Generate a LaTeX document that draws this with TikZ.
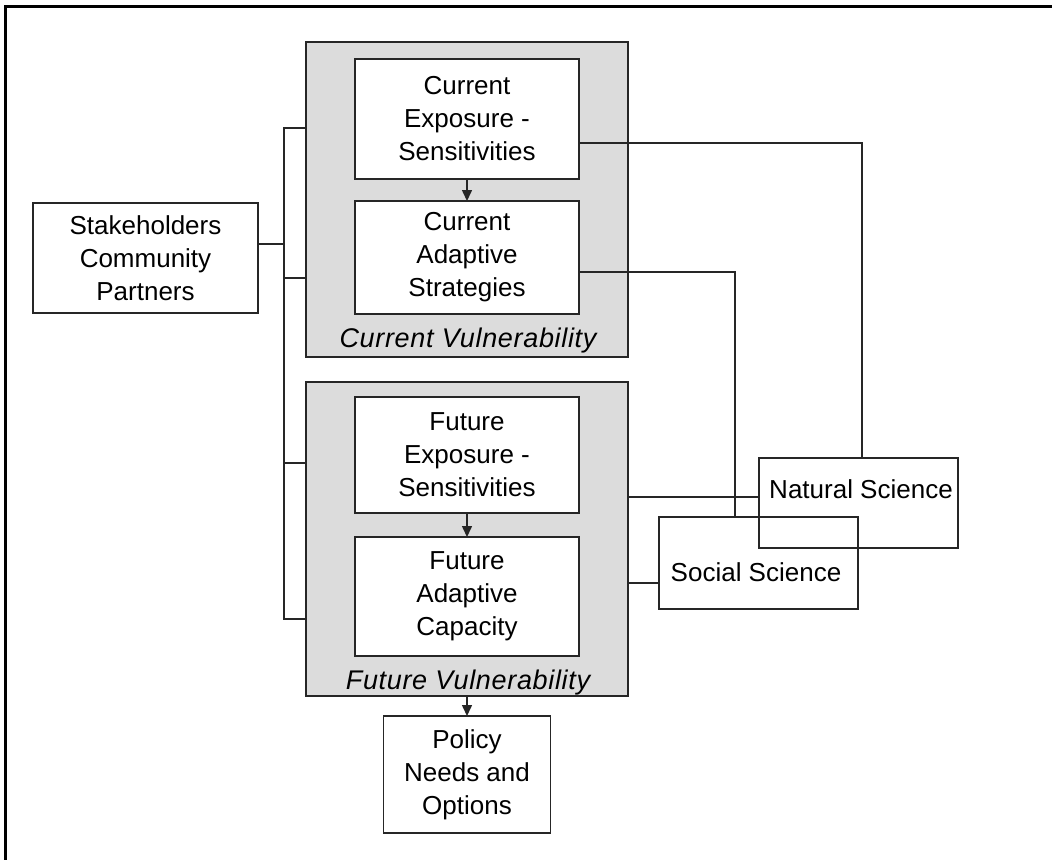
\documentclass[tikz,border=0pt]{standalone}
\usepackage{fontspec}
\setmainfont{Liberation Sans}
\usetikzlibrary{arrows.meta}
\definecolor{panelgray}{HTML}{DCDCDC}
\definecolor{ink}{HTML}{262626}
\begin{document}
\begin{tikzpicture}[x=1pt,y=-1pt,
  wbox/.style={draw=ink,line width=1.5pt,fill=white,inner sep=0pt,outer sep=0pt,align=center,
    font=\fontsize{26}{33}\selectfont},
  gbox/.style={draw=ink,line width=1.5pt,fill=panelgray,inner sep=0pt,outer sep=0pt},
  obox/.style={draw=ink,line width=1.5pt,inner sep=0pt,outer sep=0pt},
  lbl/.style={font=\fontsize{26}{33}\selectfont,inner sep=0pt},
  ilbl/.style={font=\fontsize{27}{33}\selectfont\itshape\addfontfeature{LetterSpace=2.5},inner sep=0pt,anchor=base},
  conn/.style={draw=ink,line width=1.5pt},
  arr/.style={draw=ink,line width=1.5pt,-{Triangle[length=11pt,width=10pt]}},
  frame/.style={draw=black,line width=3pt}
]
\useasboundingbox (0,0) rectangle (1052,860);
% outer frame (top and left edges visible)
\coordinate (ftl) at (5,6);
\coordinate (ftr) at (1052,6);
\coordinate (fbl) at (5,860);
\draw[frame] (ftr) -- (ftl) -- (fbl);

% grey panels
\node[gbox,minimum width=322pt,minimum height=315pt] (cv) at (467,199.5) {};
\node[gbox,minimum width=322pt,minimum height=314pt] (fv) at (467,539) {};
\node[ilbl] (cvl) at (468,347) {Current Vulnerability};
\node[ilbl] (fvl) at (468,689) {Future Vulnerability};

% white boxes
\node[wbox,minimum width=224pt,minimum height=120pt] (ce) at (467,119) {Current\\Exposure -\\Sensitivities};
\node[wbox,minimum width=224pt,minimum height=113pt] (ca) at (467,257.5) {Current\\Adaptive\\Strategies};
\node[wbox,minimum width=224pt,minimum height=116pt] (fe) at (467,455) {Future\\Exposure -\\Sensitivities};
\node[wbox,minimum width=224pt,minimum height=119pt] (fa) at (467,596.5) {Future\\Adaptive\\Capacity};
\node[wbox,minimum width=167pt,minimum height=117pt] (pol) at (467,774.5) {Policy\\Needs and\\Options};
\node[wbox,minimum width=225pt,minimum height=110pt] (sh) at (145.5,258) {Stakeholders\\Community\\Partners};

% science boxes (unfilled, overlapping)
\node[obox,minimum width=199pt,minimum height=90pt] (ns) at (858.5,503) {};
\node[obox,minimum width=199pt,minimum height=92pt] (ss) at (758.5,563) {};
\node[lbl] (nst) at (861,489) {Natural Science};
\node[lbl] (sst) at (756,572) {Social Science};

% arrows
\draw[arr] (ce.south) -- (ca.north);
\draw[arr] (fe.south) -- (fa.north);
\draw[arr] (fv.south) -- (pol.north);

% stakeholder bracket
\coordinate (bt) at (284,128);
\coordinate (bb) at (284,619);
\coordinate (b1) at (284,278);
\coordinate (b2) at (284,463);
\coordinate (bs) at (284,244);
\draw[conn] (cv.west |- bt) -- (bt) -- (bb) -- (fv.west |- bb);
\draw[conn] (b1) -- (cv.west |- b1);
\draw[conn] (b2) -- (fv.west |- b2);
\draw[conn] (sh.east |- bs) -- (bs);

% links to sciences
\coordinate (nsc) at (862,143);
\coordinate (ssc) at (735,272);
\draw[conn] (ce.east |- nsc) -- (nsc) -- (nsc |- ns.north);
\draw[conn] (ca.east |- ssc) -- (ssc) -- (ssc |- ss.north);
\coordinate (fel) at (628,497);
\coordinate (fal) at (628,583);
\draw[conn] (fel) -- (ns.west |- fel);
\draw[conn] (fal) -- (ss.west |- fal);
\end{tikzpicture}
\end{document}
